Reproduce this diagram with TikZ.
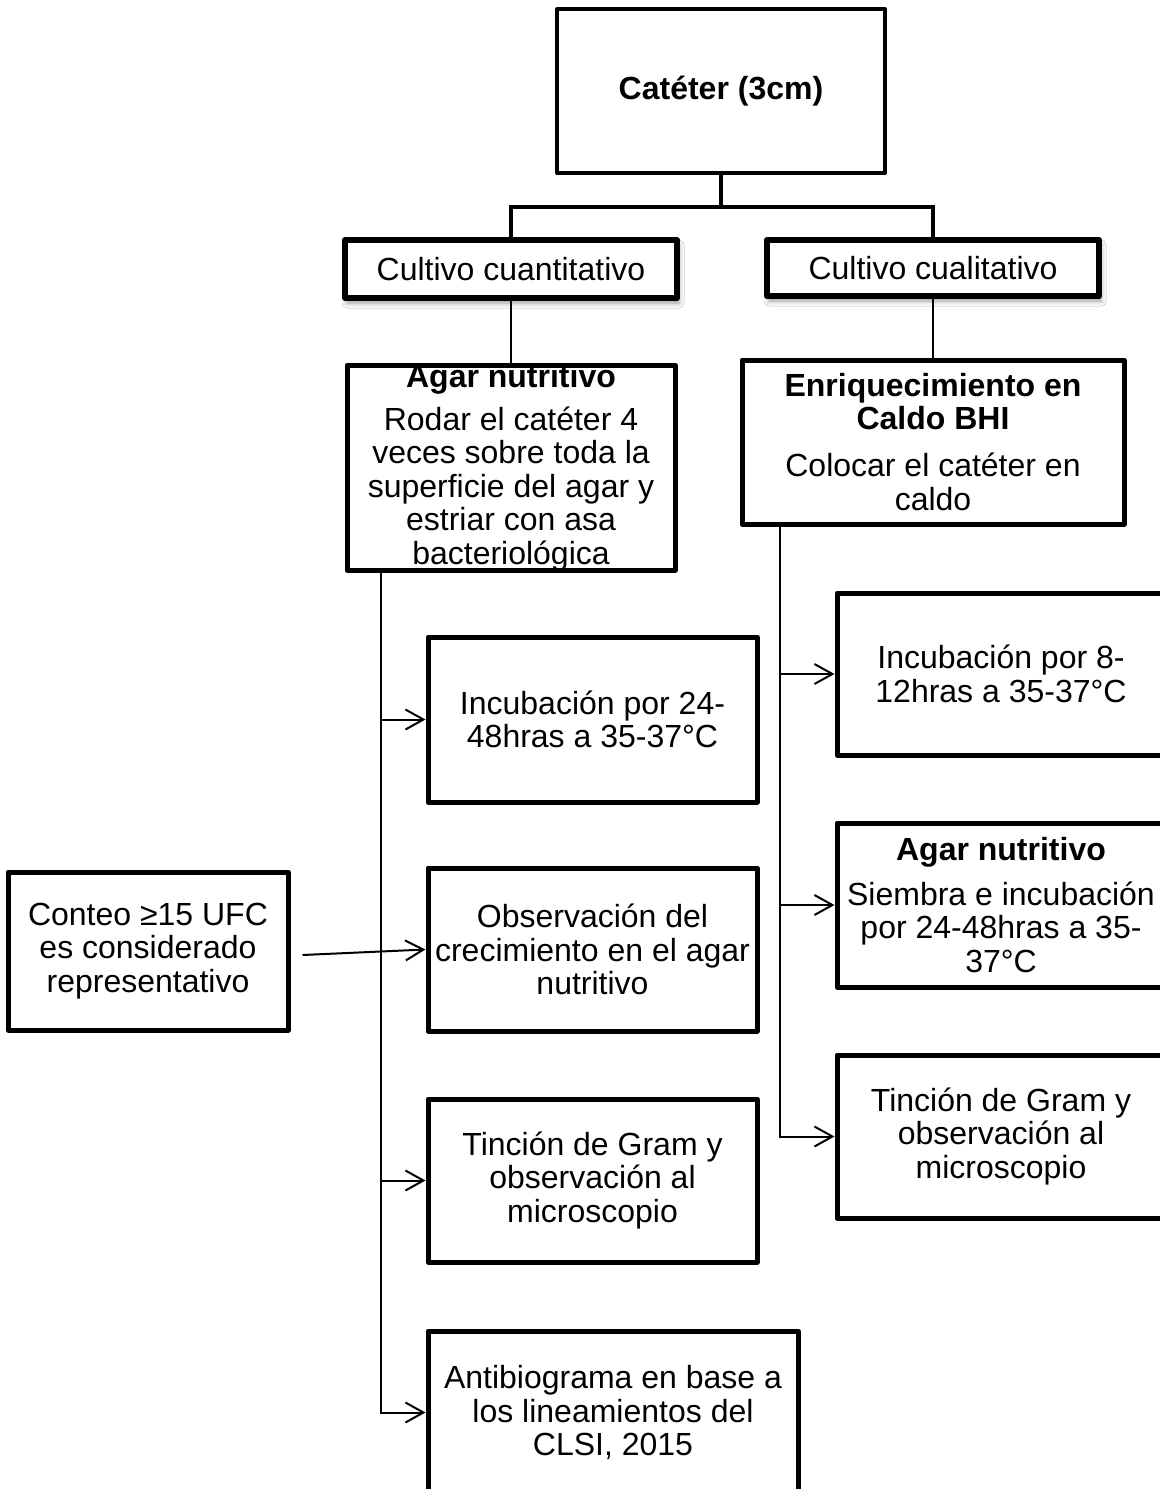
\documentclass[tikz,border=0pt]{standalone}
\usepackage{fontspec}
\setmainfont{Liberation Sans}
\usetikzlibrary{arrows.meta,shadows.blur}
\begin{document}
\begin{tikzpicture}[x=0.5pt,y=-0.5pt,
  font=\fontsize{16}{16.75}\selectfont,
  wh/.style 2 args={minimum width={#1*0.5pt},minimum height={#2*0.5pt}},
  stepbox/.style={draw,line width=2.5pt,inner sep=0pt,align=center,line join=round,fill=white},
  txt/.style={inner sep=0pt,align=center},
  link/.style={line width=1pt},
  thinlink/.style={line width=0.75pt},
  trunk/.style={line width=2pt},
  feed/.style={line width=1pt,-{Straight Barb[length=9pt,width=10pt]}},
  shade/.style={line width=3pt,blur shadow={shadow xshift=1pt,shadow yshift=-2.5pt,shadow blur radius=2.5pt,shadow opacity=40}}
]
\useasboundingbox (0,0) rectangle (1160,1489);
\fill[white] (0,0) rectangle (1160,1489);
\clip (0,0) rectangle (1160,1489);

% top of the tree
\node[stepbox,line width=2pt,wh={328}{164}] (cat) at (721,91) {\textbf{Catéter (3cm)}};
\node[stepbox,shade,wh={332}{58}] (cuan) at (511,269) {Cultivo cuantitativo};
\node[stepbox,shade,wh={332}{56}] (cual) at (933,268) {Cultivo cualitativo};

% quantitative branch
\node[stepbox,wh={328}{205}] (agarL) at (511,467.5) {};
\node[txt] (agarLt) at (agarL.center) {\textbf{Agar nutritivo}\\[4.75pt]Rodar el catéter 4\\veces sobre toda la\\superficie del agar y\\estriar con asa\\bacteriológica};
\node[stepbox,wh={329}{165}] (inc1) at (592.5,719.5) {Incubación por 24-\\48hras a 35-37°C};
\node[stepbox,wh={329}{163}] (obs) at (592.5,949.5) {Observación del\\crecimiento en el agar\\nutritivo};
\node[stepbox,wh={329}{163}] (tin1) at (592.5,1180.5) {Tinción de Gram y\\observación al\\microscopio};
\node[stepbox,wh={370}{163}] (anti) at (613,1412.5) {Antibiograma en base a\\los lineamientos del\\CLSI, 2015};
\node[stepbox,wh={280}{158}] (conteo) at (148,951) {Conteo ≥15 UFC\\es considerado\\representativo};

% qualitative branch
\node[stepbox,wh={382}{164}] (enr) at (933,442) {\textbf{Enriquecimiento en}\\\textbf{Caldo BHI}\\[6.75pt]Colocar el catéter en\\caldo};
\node[stepbox,wh={328}{162}] (inc2) at (1001,674) {Incubación por 8-\\12hras a 35-37°C};
\node[stepbox,wh={328}{164}] (agar2) at (1001,905) {\textbf{Agar nutritivo}\\[5.75pt]Siembra e incubación\\por 24-48hras a 35-\\37°C};
\node[stepbox,wh={328}{163}] (tin2) at (1001,1136.5) {Tinción de Gram y\\observación al\\microscopio};

% connectors
\coordinate (bar) at (721,207);
\draw[trunk] (cat.south) -- (bar);
\draw[trunk] (cuan.north) -- (cuan.north |- bar) -- (cual.north |- bar) -- (cual.north);
\draw[thinlink] (cuan.south) -- (agarL.north);
\draw[thinlink] (cual.south) -- (enr.north);

\coordinate (spineL) at (381,0);
\draw[feed] (agarL.south -| spineL) |- (anti.west);
\draw[feed] (spineL |- inc1.west) -- (inc1.west);
\draw[feed] (spineL |- tin1.west) -- (tin1.west);
\draw[feed] ([xshift=6pt,yshift=-2pt]conteo.east) -- (obs.west);

\coordinate (spineR) at (780,0);
\draw[feed] (enr.south -| spineR) |- (tin2.west);
\draw[feed] (spineR |- inc2.west) -- (inc2.west);
\draw[feed] (spineR |- agar2.west) -- (agar2.west);
\end{tikzpicture}
\end{document}
